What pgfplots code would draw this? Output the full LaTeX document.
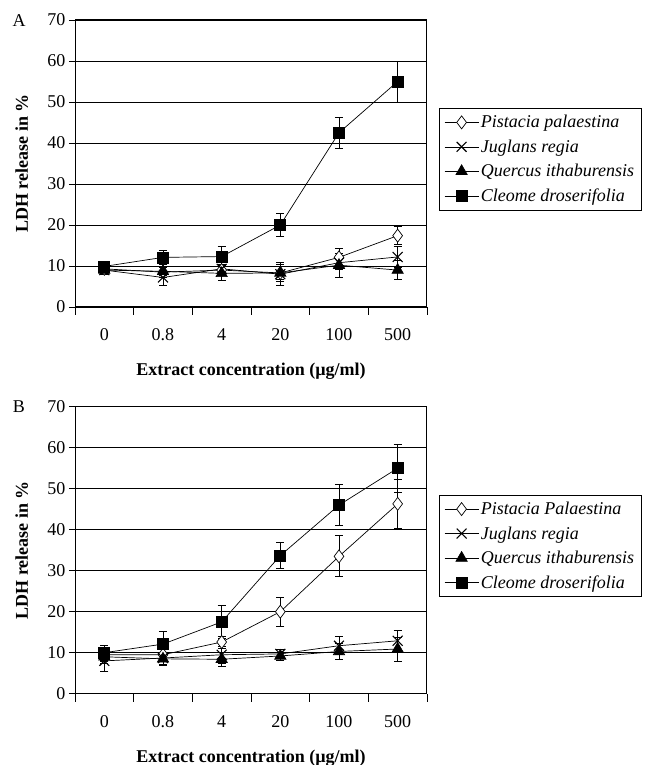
\documentclass[border=0pt]{standalone}
\usepackage{fontspec}
\setmainfont{Liberation Serif}
\usepackage{pgfplots}
\pgfplotsset{compat=1.18}

\pgfplotsset{
  ldh/.style={
    scale only axis, width=352bp, height=287bp,
    font=\fontsize{18bp}{21bp}\selectfont,
    /pgf/number format/assume math mode=true,
    xmin=-0.5, xmax=5.5, ymin=0, ymax=70,
    xtick={0,1,2,3,4,5},
    xticklabels={0,0.8,4,20,100,500},
    major x tick style={draw=none},
    minor xtick={-0.5,0.5,1.5,2.5,3.5,4.5,5.5},
    minor tick length=8bp,
    ytick={0,10,...,70},
    major tick length=6bp,
    tick align=outside,
    xtick pos=bottom, ytick pos=left,
    xticklabel style={yshift=-12bp},
    ymajorgrids, grid style={black, line width=0.8pt},
    axis line style={line width=1pt},
    tick style={black, line width=0.8pt},
    xlabel={\bfseries Extract concentration (µg/ml)},
    ylabel={\bfseries LDH release in \%},
    xlabel style={at={(axis description cs:0.5,-0.225)}, anchor=center},
    ylabel style={at={(axis description cs:-0.151,0.5)}, anchor=center},
    legend cell align=left,
    legend style={draw=black, line width=0.6pt, fill=white, anchor=north west,
      at={(axis description cs:1.034,0.693)},
      font=\fontsize{18bp}{21bp}\selectfont\itshape,
      row sep=6.5bp, inner xsep=5bp, inner ysep=5bp},
    legend image code/.code={\draw[mark repeat=2,mark phase=2,#1]
      plot coordinates {(0bp,0bp) (17bp,0bp) (34bp,0bp)};},
    error bars/y dir=both, error bars/y explicit,
    error bars/error bar style={black, line width=0.7pt},
    error bars/error mark options={black, rotate=90, mark size=4bp, line width=0.7pt},
  },
  pist/.style={black, line width=0.7pt, mark=diamond*, mark size=6.5bp,
    mark options={fill=white, solid}},
  jug/.style={black, line width=0.7pt, mark=x, mark size=7bp,
    mark options={line width=1.1pt}},
  quer/.style={black, line width=0.7pt, mark=triangle*, mark size=6.5bp,
    mark options={fill=black}},
  cle/.style={black, line width=0.7pt, mark=square*, mark size=5.5bp,
    mark options={fill=black}},
}

\begin{document}
\begin{tikzpicture}
\useasboundingbox (0,0) rectangle (645bp,765bp);

% panel A
\begin{axis}[ldh, at={(75bp,745bp)}, anchor=north west]
\addplot[pist] coordinates {
  (0,9.3) +- (0,0.8) (1,8.5) +- (0,1.2) (2,9.0) +- (0,1.2)
  (3,8.3) +- (0,2.0) (4,12.1) +- (0,2.3) (5,17.4) +- (0,2.2)};
\addlegendentry{Pistacia palaestina}
\addplot[jug] coordinates {
  (0,9.0) +- (0,1.0) (1,7.2) +- (0,1.8) (2,9.3) +- (0,1.2)
  (3,8.0) +- (0,2.8) (4,10.8) +- (0,1.5) (5,12.2) +- (0,2.5)};
\addlegendentry{Juglans regia}
\addplot[quer] coordinates {
  (0,9.0) +- (0,0.8) (1,8.7) +- (0,1.0) (2,8.2) +- (0,1.8)
  (3,8.3) +- (0,1.5) (4,10.2) +- (0,3.0) (5,9.0) +- (0,2.3)};
\addlegendentry{Quercus ithaburensis}
\addplot[cle] coordinates {
  (0,9.9) +- (0,0.8) (1,12.1) +- (0,1.8) (2,12.3) +- (0,2.4)
  (3,20.0) +- (0,2.8) (4,42.5) +- (0,3.8) (5,55.0) +- (0,5.0)};
\addlegendentry{Cleome droserifolia}
\end{axis}
\node[font=\fontsize{18bp}{21bp}\selectfont] at (19bp,744bp) {A};

% panel B
\begin{axis}[ldh, at={(75bp,358.3bp)}, anchor=north west]
\addplot[pist] coordinates {
  (0,9.5) +- (0,1.5) (1,9.5) +- (0,1.2) (2,12.6) +- (0,1.5)
  (3,20.0) +- (0,3.5) (4,33.5) +- (0,5.0) (5,46.3) +- (0,6.0)};
\addlegendentry{Pistacia Palaestina}
\addplot[jug] coordinates {
  (0,8.0) +- (0,2.6) (1,8.7) +- (0,1.5) (2,9.5) +- (0,2.0)
  (3,9.7) +- (0,1.2) (4,11.7) +- (0,2.2) (5,12.9) +- (0,2.5)};
\addlegendentry{Juglans regia}
\addplot[quer] coordinates {
  (0,9.0) +- (0,1.5) (1,8.5) +- (0,1.5) (2,8.4) +- (0,1.8)
  (3,9.2) +- (0,1.0) (4,10.3) +- (0,2.0) (5,10.9) +- (0,2.9)};
\addlegendentry{Quercus ithaburensis}
\addplot[cle] coordinates {
  (0,10.0) +- (0,1.8) (1,12.1) +- (0,3.0) (2,17.5) +- (0,4.0)
  (3,33.7) +- (0,3.2) (4,46.0) +- (0,5.0) (5,55.0) +- (0,5.9)};
\addlegendentry{Cleome droserifolia}
\end{axis}
\node[font=\fontsize{18bp}{21bp}\selectfont] at (19bp,358bp) {B};
\end{tikzpicture}
\end{document}
